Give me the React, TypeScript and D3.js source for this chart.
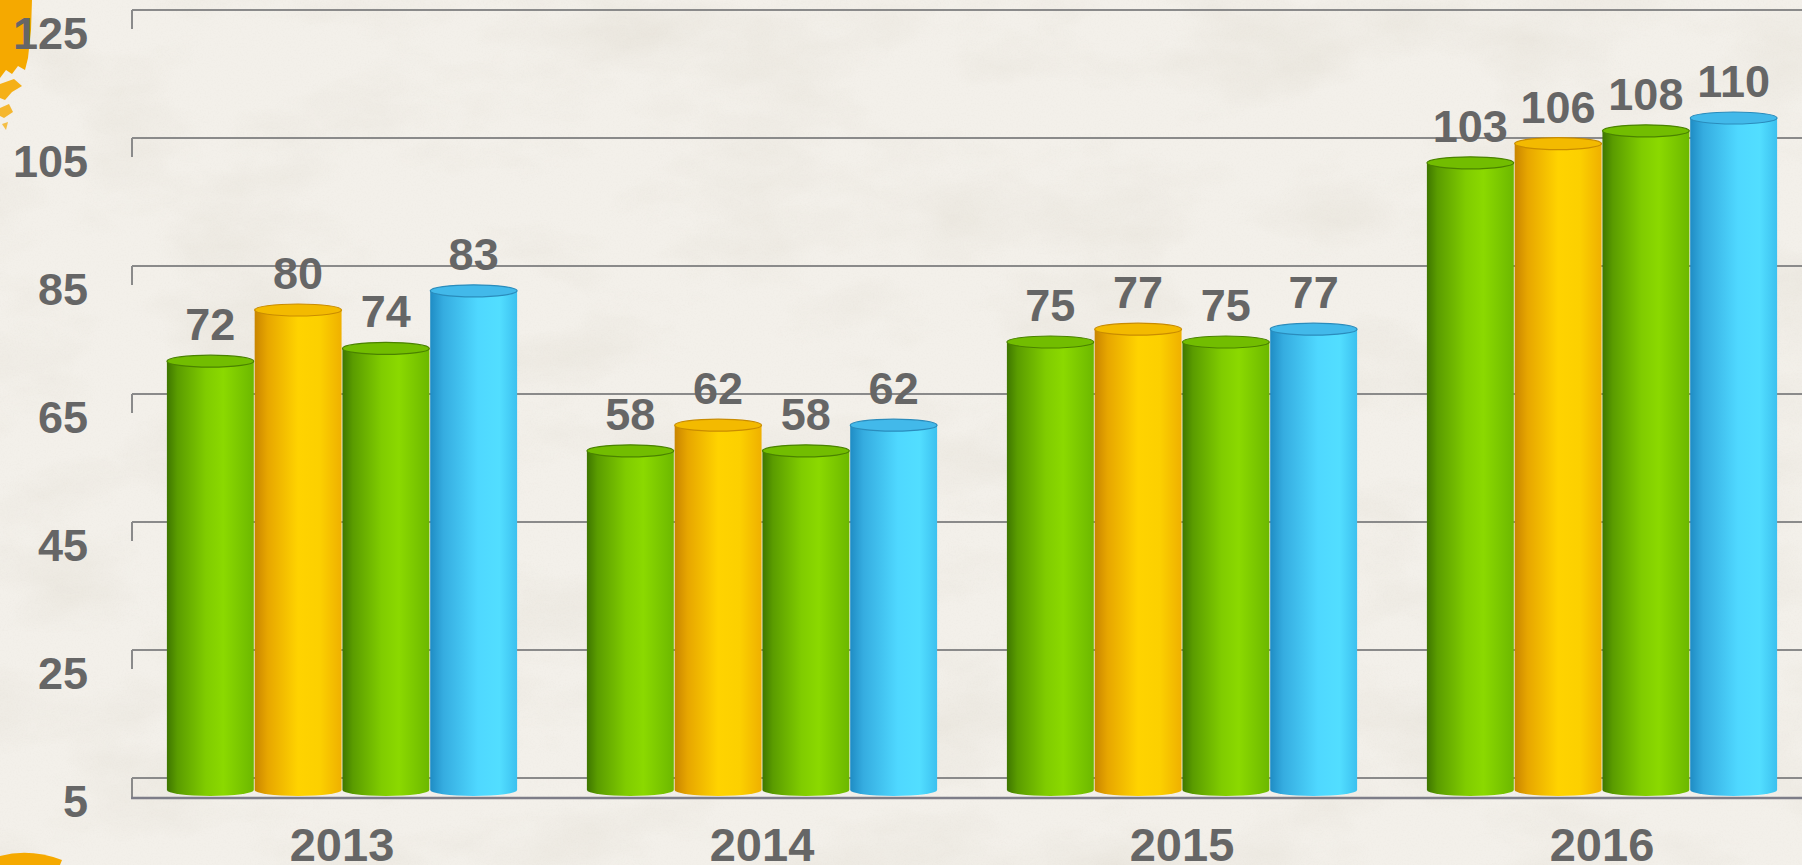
import React from 'react';
import * as d3 from 'd3';

// chart data
const years = ['2013', '2014', '2015', '2016'];
const seriesNames = ['Series 1', 'Series 2', 'Series 3', 'Series 4'];
const series1 = [72, 58, 75, 103];
const series2 = [80, 62, 77, 106];
const series3 = [74, 58, 75, 108];
const series4 = [83, 62, 77, 110];
const yTicks = [5, 25, 45, 65, 85, 105, 125];

const allSeries = [series1, series2, series3, series4];
const seriesColor = ['green', 'yellow', 'green', 'blue'];

const W = 1802;
const H = 865;
const DEPTH = 12; // 3d offset of the bars in front of the back wall

// gradient stops per colour: body of the cylinder and its top face
const palette: Record<string, { body: [number, string][]; top: string; rim: string }> = {
  green: {
    body: [[0, '#3e7600'], [0.12, '#5a9c00'], [0.45, '#80cc00'], [0.65, '#8bd900'], [1, '#6cb800']],
    top: '#72bd00',
    rim: '#4a8200',
  },
  yellow: {
    body: [[0, '#c98500'], [0.15, '#e7a600'], [0.5, '#ffd300'], [0.75, '#fcd000'], [1, '#efb000']],
    top: '#f3ba00',
    rim: '#c98c00',
  },
  blue: {
    body: [[0, '#1f8cc4'], [0.15, '#35ace0'], [0.55, '#4fd8ff'], [0.8, '#52deff'], [1, '#3cc0ef']],
    top: '#42b9ea',
    rim: '#2a8cbc',
  },
};

export default function App() {
  const x0 = d3.scaleBand<string>().domain(years).range([132, 1812]).paddingInner(0.162).paddingOuter(0.081);
  const x1 = d3.scaleBand<string>().domain(seriesNames).range([0, x0.bandwidth()]).padding(0.01);
  const yWall = d3.scaleLinear().domain([5, 125]).range([778, 10]);
  const yBar = d3.scaleLinear().domain([5, 125]).range([778 + DEPTH, 10 + DEPTH]);

  const floorY = yWall(5) + 20;
  const bw = x1.bandwidth();
  const ry = 6;

  return (
    <svg width={W} height={H} style={{ position: 'absolute', left: 0, top: 0, display: 'block' }}
      fontFamily="'Liberation Sans', Arial, sans-serif">
      <defs>
        <filter id="paper" x="0" y="0" width="100%" height="100%">
          <feTurbulence type="fractalNoise" baseFrequency="0.006 0.012" numOctaves={5} seed={7} result="n" />
          <feColorMatrix in="n" type="matrix"
            values="0 0 0 0 0.55  0 0 0 0 0.5  0 0 0 0 0.4  0 0 0 -1.1 0.62" />
        </filter>
        <filter id="grain" x="0" y="0" width="100%" height="100%">
          <feTurbulence type="fractalNoise" baseFrequency="0.6" numOctaves={2} seed={3} result="g" />
          <feColorMatrix in="g" type="matrix"
            values="0 0 0 0 0.5  0 0 0 0 0.47  0 0 0 0 0.4  0 0 0 -0.9 0.5" />
        </filter>
        {Object.entries(palette).map(([k, p]) => (
          <linearGradient key={k} id={`body-${k}`} x1="0" x2="1" y1="0" y2="0">
            {p.body.map(([o, c], i) => <stop key={i} offset={o} stopColor={c} />)}
          </linearGradient>
        ))}
      </defs>

      {/* paper background */}
      <rect width={W} height={H} fill="#f3f0ea" />
      <rect width={W} height={H} filter="url(#paper)" opacity={0.35} />
      <rect width={W} height={H} filter="url(#grain)" opacity={0.12} />

      {/* orange paint splashes on the left edge */}
      <path d="M0,0 L32,0 L31,30 L28,58 L25,70 L18,66 L12,74 L6,70 L0,78 Z" fill="#f5a900" />
      <path d="M0,84 L14,79 L22,86 L12,92 L5,100 L0,98 Z" fill="#f5a900" opacity={0.9} />
      <path d="M0,108 L9,104 L13,112 L4,118 L0,116 Z" fill="#f5a900" opacity={0.8} />
      <path d="M2,124 L8,122 L6,130 Z" fill="#f5a900" opacity={0.7} />
      <path d="M0,856 Q30,848 62,860 L60,865 L0,865 Z" fill="#f5a900" />

      {/* back wall grid lines with side edge stubs */}
      {yTicks.map(t => (
        <g key={t} stroke="#8a8a8a" strokeWidth={2} fill="none">
          <line x1={132} x2={W} y1={yWall(t)} y2={yWall(t)} />
          <line x1={132} x2={132} y1={yWall(t)} y2={yWall(t) + (t === 5 ? 20 : 19)} />
        </g>
      ))}
      {/* floor front edge */}
      <line x1={131} x2={W} y1={floorY} y2={floorY} stroke="#7d7d88" strokeWidth={2.5} />

      {/* cylinders */}
      {years.map((yr, gi) => (
        <g key={yr} transform={`translate(${x0(yr)},0)`}>
          {allSeries.map((vals, si) => {
            const v = vals[gi];
            const c = seriesColor[si];
            const p = palette[c];
            const bx = x1(seriesNames[si]) as number;
            const top = yBar(v);
            const base = yBar(5);
            const cx = bx + bw / 2;
            const body = `M${bx},${top} L${bx},${base} A${bw / 2},${ry} 0 0 0 ${bx + bw},${base} L${bx + bw},${top} Z`;
            return (
              <g key={si}>
                <path d={body} fill={`url(#body-${c})`} />
                <ellipse cx={cx} cy={top} rx={bw / 2} ry={ry} fill={p.top} stroke={p.rim} strokeWidth={1.2} />
              </g>
            );
          })}
        </g>
      ))}

      {/* value labels */}
      {years.map((yr, gi) => allSeries.map((vals, si) => (
        <text key={`${yr}-${si}`} x={(x0(yr) as number) + (x1(seriesNames[si]) as number) + bw / 2}
          y={yBar(vals[gi]) - 21} textAnchor="middle" fontSize={45} fontWeight="bold" fill="#666">
          {vals[gi]}
        </text>
      )))}

      {/* y axis labels */}
      {yTicks.map(t => (
        <text key={t} x={88} y={yWall(t) + 39} textAnchor="end" fontSize={45} fontWeight="bold" fill="#666">
          {t}
        </text>
      ))}

      {/* category labels */}
      {years.map(yr => (
        <text key={yr} x={(x0(yr) as number) + x0.bandwidth() / 2} y={861} textAnchor="middle"
          fontSize={47} fontWeight="bold" fill="#666">
          {yr}
        </text>
      ))}
    </svg>
  );
}
